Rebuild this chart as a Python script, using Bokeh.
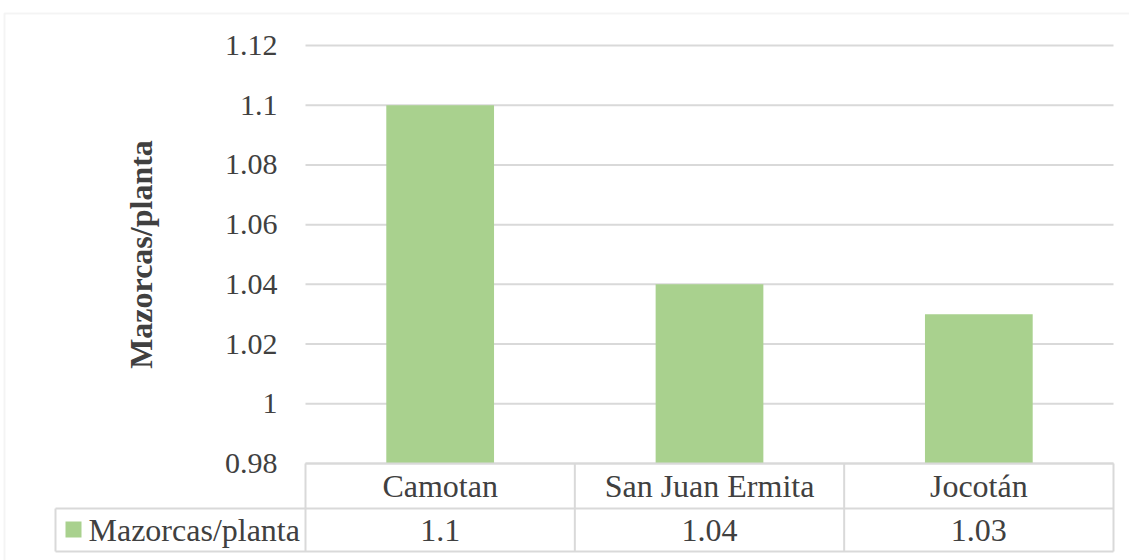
import math
from bokeh.plotting import figure
from bokeh.models import FixedTicker, BoxAnnotation, Label, Range1d
from bokeh.core.properties import value
from bokeh.embed import file_html
from bokeh.resources import INLINE

# ---- data ----
categories = ["Camotan", "San Juan Ermita", "Jocotán"]
series_name = "Mazorcas/planta"
values = [1.1, 1.04, 1.03]
y_ticks = [0.98, 1.0, 1.02, 1.04, 1.06, 1.08, 1.1, 1.12]
y_tick_labels = ["0.98", "1", "1.02", "1.04", "1.06", "1.08", "1.1", "1.12"]
value_labels = ["1.1", "1.04", "1.03"]

# ---- layout (pixels) ----
W, H = 1129, 560
PLOT_L, PLOT_R = 305, 1113
PLOT_T, PLOT_B = 45, 463
ROW_MID, TABLE_B = 508, 551
LEG_L = 55
n = len(categories)
Y_MIN, Y_MAX = y_ticks[0], y_ticks[-1]
ppu = (PLOT_B - PLOT_T) / (Y_MAX - Y_MIN)
ppx = (PLOT_R - PLOT_L) / n

def py(pix):
    return Y_MAX - (pix - PLOT_T) / ppu

def px(pix):
    return (pix - PLOT_L) / ppx

FONT = "Liberation Serif"
TXT = "#404040"
GRID = "#D9D9D9"
BAR = "#A9D18E"
FS = "32px"

p = figure(width=W, height=H, output_backend="svg", toolbar_location=None,
           x_range=Range1d(px(0), px(W)), y_range=Range1d(py(H), py(0)),
           min_border=0)
p.outline_line_color = None
p.background_fill_color = "white"
p.border_fill_color = "white"

xs = [i + 0.5 for i in range(n)]

# outer chart border
p.add_layout(BoxAnnotation(left=px(4), right=px(W + 20), top=py(13), bottom=py(H + 20),
                           fill_alpha=0, line_color=GRID, line_width=2, level="underlay"))

# gridlines across the plot area
p.segment(x0=[0] * len(y_ticks), x1=[n] * len(y_ticks), y0=y_ticks, y1=y_ticks,
          line_color=GRID, line_width=2)

# bars
p.vbar(x=xs, top=values, bottom=Y_MIN, width=0.4, fill_color=BAR, line_color=None)

# axes
p.xaxis.visible = False
p.xgrid.visible = False
p.ygrid.visible = False
p.yaxis.fixed_location = 0
p.yaxis.ticker = FixedTicker(ticks=y_ticks)
p.yaxis.major_label_overrides = {t: l for t, l in zip(y_ticks, y_tick_labels)}
p.yaxis.axis_line_color = None
p.yaxis.major_tick_line_color = None
p.yaxis.minor_tick_line_color = None
p.yaxis.major_label_standoff = 22
p.yaxis.major_label_text_font = FONT
p.yaxis.major_label_text_font_size = "30px"
p.yaxis.major_label_text_color = TXT

# y title
p.add_layout(Label(x=px(140), y=(Y_MIN + Y_MAX) / 2, text=series_name,
                   angle=math.pi / 2, text_align="center", text_baseline="middle",
                   text_font=FONT, text_font_size=FS, text_font_style="bold",
                   text_color=TXT))

# data table lines
y_top, y_mid, y_bot = Y_MIN, py(ROW_MID), py(TABLE_B)
p.segment(x0=[0, px(LEG_L), px(LEG_L)], x1=[n, n, n], y0=[y_top, y_mid, y_bot],
          y1=[y_top, y_mid, y_bot], line_color=GRID, line_width=2)
p.segment(x0=list(range(n + 1)) + [px(LEG_L)], x1=list(range(n + 1)) + [px(LEG_L)],
          y0=[y_top] * (n + 1) + [y_mid], y1=[y_bot] * (n + 2),
          line_color=GRID, line_width=2)

# header + values text
p.text(x=xs, y=[py((PLOT_B + ROW_MID) / 2)] * n, text=categories, text_align="center",
       text_baseline="middle", text_font=value(FONT), text_font_size=FS, text_color=TXT)
p.text(x=xs, y=[py((ROW_MID + TABLE_B) / 2)] * n, text=value_labels, text_align="center",
       text_baseline="middle", text_font=value(FONT), text_font_size=FS, text_color=TXT)

# legend cell
p.rect(x=[px(73)], y=[py(529)], width=16 / ppx, height=16 / ppu, fill_color=BAR, line_color=None)
p.text(x=[px(88)], y=[py((ROW_MID + TABLE_B) / 2)], text=[series_name], text_align="left",
       text_baseline="middle", text_font=value(FONT), text_font_size=FS, text_color=TXT)

open("out.html", "w").write(file_html(p, INLINE))
